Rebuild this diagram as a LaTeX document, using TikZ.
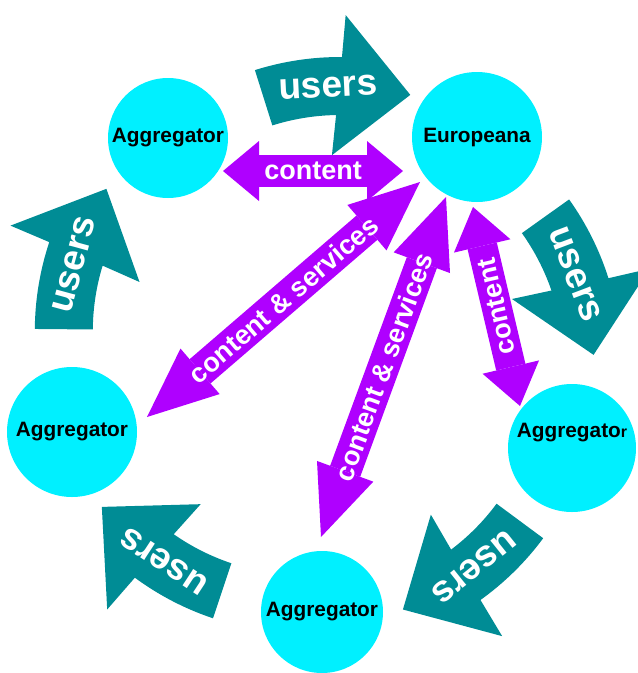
\documentclass[tikz,border=0pt]{standalone}
\usepackage{fontspec}
\setmainfont{Liberation Sans}
\usetikzlibrary{arrows.meta}

\definecolor{aggcyan}{RGB}{0,240,255}
\definecolor{usersteal}{RGB}{0,140,149}
\definecolor{flowpurple}{RGB}{175,0,255}

\tikzset{
  agg/.style={circle, fill=aggcyan, inner sep=0pt, font=\fontsize{20.8}{24}\selectfont\bfseries},
  aggtext/.style={inner sep=0pt, font=\fontsize{20.8}{24}\selectfont\bfseries},
  userstext/.style={text=white, inner sep=0pt, transform shape, font=\fontsize{37}{40}\selectfont\bfseries},
  flow/.style={draw=flowpurple, line width=32pt},
  flowtext/.style={text=white, inner sep=0pt, font=\fontsize{27}{30}\selectfont\bfseries},
  headshort/.tip={Triangle[length=36pt 0 0, width=60pt 0 0, line width=0pt]},
  headmid/.tip={Triangle[length=40pt 0 0, width=58pt 0 0, line width=0pt]},
  headlong/.tip={Triangle[length=70pt 0 0, width=60pt 0 0, line width=0pt]}
}

\begin{document}
\begin{tikzpicture}[x=1pt, y=-1pt]
    \useasboundingbox (0,0) rectangle (638,673);

    % Aggregatori e Europeana
    \node[agg, minimum size=120pt] (tl) at (168,138) {Aggregator};
    \node[agg, minimum size=130pt] (eu) at (477,137) {Europeana};
    \node[agg, minimum size=128pt] (rt) at (572,448) {};
    \node[aggtext] (rtname) at (572,433) {Aggregato{\fontsize{16}{18}\selectfont r}};
    \node[agg, minimum size=122pt] (bt) at (322,612) {Aggregator};
    \node[agg, minimum size=130pt] (lf) at (72,432) {Aggregator};

    % frecce "users" in cerchio, ruotate di 72 gradi
    \foreach \k in {0,...,4} {
        \begin{scope}[rotate around={-72*\k:(323,351)}, shift={(340,340)}]
            \fill[usersteal] (252.5:283) arc[start angle=252.5, end angle=270.4, radius=283]
                -- (271:325) -- (286:255) -- (267.5:185) -- (269:225)
                arc[start angle=269, end angle=252.5, radius=225] -- cycle;
            \node[userstext, rotate=2.7] (u\k) at (267.3:252.8) {users};
        \end{scope}
    }

    % estremi delle frecce viola
    \coordinate (c1) at (223,171);
    \coordinate (c2) at (403,171);
    \coordinate (s1) at (420,182);
    \coordinate (s2) at (147,417);
    \coordinate (t1) at (446,197);
    \coordinate (t2) at (321,537);
    \coordinate (r1) at (473,207);
    \coordinate (r2) at (520,406);

    % Archi
    \draw[flow, headshort-headshort] (c1) -- (c2) node[flowtext, midway] (cl) {content};
    \draw[flow, headlong-headlong] (s1) -- (s2) node[flowtext, midway, sloped] (sl) {content \& services};
    \draw[flow, headlong-headlong] (t1) -- (t2) node[flowtext, midway, sloped] (tlb) {content \& services};
    \draw[flow, line width=30pt, headmid-headmid] (r1) -- (r2) node[flowtext, midway, rotate=103] (rl) {content};
\end{tikzpicture}
\end{document}
